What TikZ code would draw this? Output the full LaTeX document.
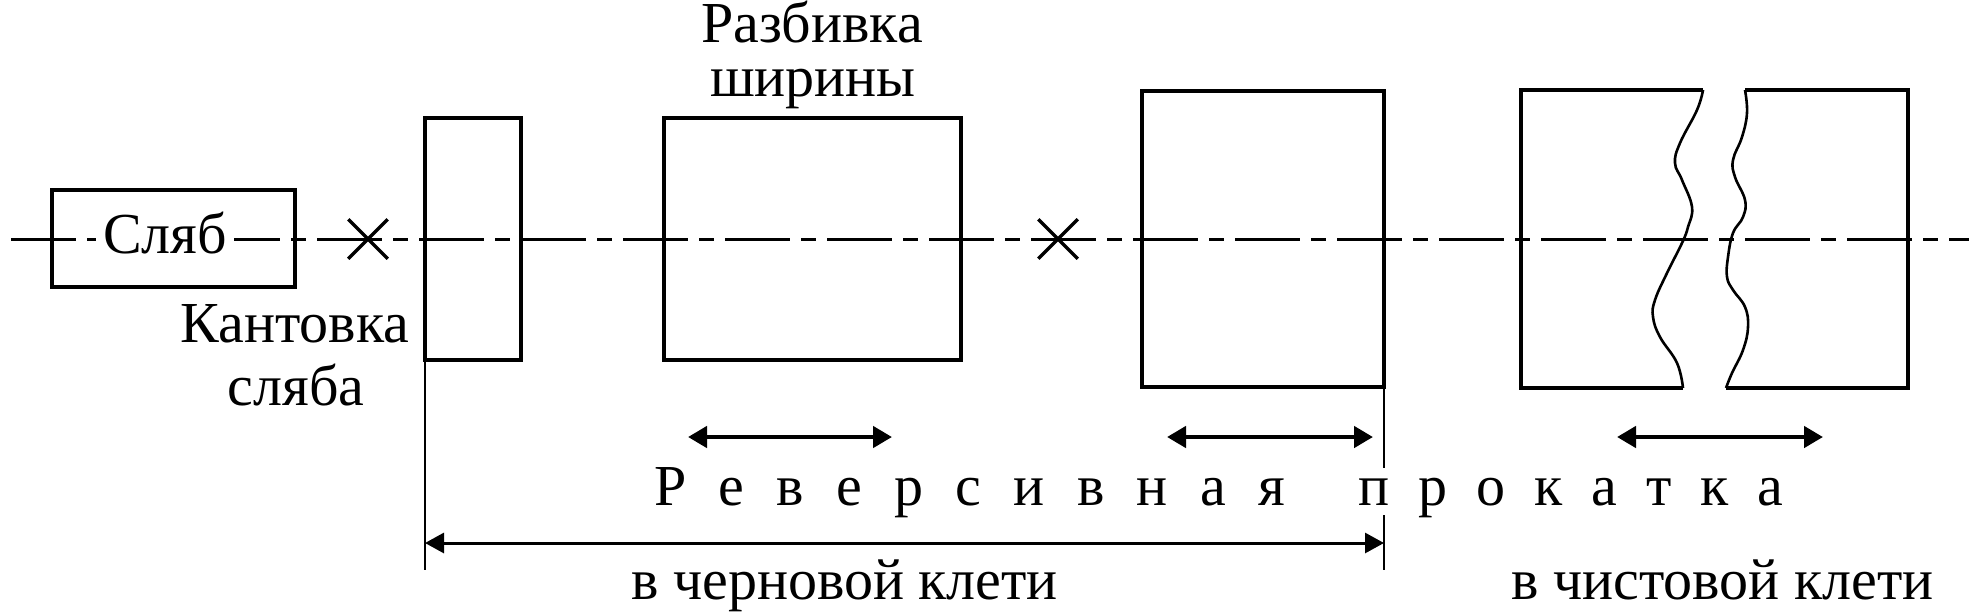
\documentclass[tikz,border=0pt]{standalone}
\usepackage{fontspec}
\setmainfont{Liberation Serif}
\newfontfamily\lblfont{Liberation Serif}
\usetikzlibrary{arrows.meta,shapes.misc}
\newcommand\lspa{\hspace{32.3pt}}
\newcommand\lspb{\hspace{29pt}}
\begin{document}
\begin{tikzpicture}[x=1pt,y=-1pt,
  box/.style={draw, line width=4pt, inner sep=0pt, outer sep=0pt},
  axisline/.style={line width=3pt, dash pattern=on 65pt off 11pt on 15pt off 11pt, dash phase=91pt},
  xmark/.style={draw, cross out, line width=3.5pt, minimum size=36pt, inner sep=0pt},
  extline/.style={line width=2.6pt},
  wavy/.style={line width=2.6pt, line join=round},
  piece/.style={line width=4pt, line join=miter},
  shortarr/.style={line width=4.5pt, {Triangle[length=19pt,width=21pt]}-{Triangle[length=19pt,width=21pt]}},
  longarr/.style={line width=3pt, {Triangle[length=19pt,width=20pt]}-{Triangle[length=19pt,width=20pt]}},
  lbl/.style={inner sep=0pt, anchor=base, font=\lblfont\fontsize{58pt}{62pt}\selectfont}
]
\useasboundingbox (0,0) rectangle (1969,611);
\fill[white] (0,0) rectangle (1969,611);

% centre line
\coordinate (cl0) at (0,239);
\coordinate (cl1) at (1969,239);
\draw[axisline] (cl0) -- (cl1);

% boxes
\node[box, minimum width=243pt, minimum height=97pt] (slab) at (173.5,238.5) {};
\node[lbl, fill=white, inner xsep=7pt] (slabtxt) at (165,253) {Сляб};
\node[box, minimum width=96pt, minimum height=242pt] (b2) at (473,239) {};
\node[box, minimum width=297pt, minimum height=242pt] (b3) at (812.5,239) {};
\node[box, minimum width=242pt, minimum height=296pt] (b4) at (1263,239) {};

% crosses
\node[xmark] (x1) at (368,239) {};
\node[xmark] (x2) at (1058,239) {};

% broken piece (finishing stand)
\coordinate (p1) at (1703,90);
\coordinate (p2) at (1521,90);
\coordinate (p3) at (1521,388);
\coordinate (p4) at (1683,388);
\coordinate (q1) at (1745,90);
\coordinate (q2) at (1908,90);
\coordinate (q3) at (1908,388);
\coordinate (q4) at (1726,388);
\draw[piece] (p1) -- (p2) -- (p3) -- (p4);
\draw[piece] (q1) -- (q2) -- (q3) -- (q4);
\draw[wavy] plot[smooth, tension=0.7] coordinates {(1703,90) (1697,110) (1680,143) (1675,163) (1682,180) (1692,207) (1688,227) (1682,243) (1667,273) (1655,300) (1653,317) (1660,337) (1677,363) (1683,388)};
\draw[wavy] plot[smooth, tension=0.7] coordinates {(1745,90) (1747,113) (1742,137) (1733,160) (1735,177) (1745,200) (1743,217) (1733,233) (1728,257) (1727,277) (1733,290) (1745,307) (1748,327) (1743,350) (1732,373) (1726,388)};

% extension lines
\coordinate (v1) at (425,570);
\draw[extline] (b2.south west) -- (v1);
\coordinate (v2a) at (1384,468);
\coordinate (v2b) at (1384,515);
\coordinate (v2c) at (1384,570);
\draw[extline] (b4.south east) -- (v2a);
\draw[extline] (v2b) -- (v2c);

% short double arrows
\coordinate (a1l) at (688,437);  \coordinate (a1r) at (892,437);
\coordinate (a2l) at (1167,437); \coordinate (a2r) at (1373,437);
\coordinate (a3l) at (1617,437); \coordinate (a3r) at (1823,437);
\draw[shortarr] (a1l) -- (a1r);
\draw[shortarr] (a2l) -- (a2r);
\draw[shortarr] (a3l) -- (a3r);

% long dimension arrow
\coordinate (la1) at (425,543);
\coordinate (la2) at (1384,543);
\draw[longarr] (la1) -- (la2);

% labels
\node[lbl] (kant1) at (295,342) {Кантовка};
\node[lbl] (kant2) at (296,405) {сляба};
\node[lbl, text height=39pt, text depth=12pt] (razb1) at (812,42) {Разбивка};
\node[lbl] (razb2) at (813,96) {ширины};
\node[lbl, anchor=base west] (rev1) at (654,505) {Р\lspa е\lspa в\lspa е\lspa р\lspa с\lspa и\lspa в\lspa н\lspa а\lspa я};
\node[lbl, anchor=base west] (rev2) at (1358,505) {п\lspb р\lspb о\lspb к\lspb а\lspb т\lspb к\lspb а};
\node[lbl] (rough) at (844.5,599) {в черновой клети};
\node[lbl] (finish) at (1722.5,599) {в чистовой клети};
\end{tikzpicture}
\end{document}
